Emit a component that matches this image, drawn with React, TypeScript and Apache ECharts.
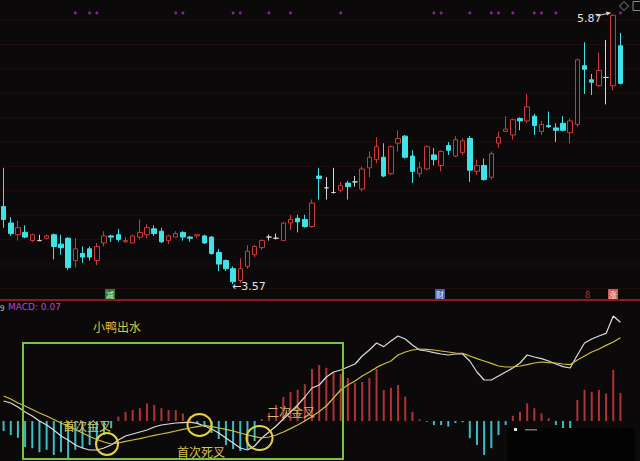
import React, { useEffect, useRef } from "react";
import * as echarts from "echarts";

// [open, close, low, high]
const ohlc: number[][] = [
  [4.23, 4.12, 4.05, 4.56], [4.09, 4.0, 3.98, 4.14], [3.99, 4.05, 3.94, 4.11], [4.01, 3.97, 3.96, 4.07], [3.94, 3.99, 3.93, 4.0],
  [3.94, 3.94, 3.94, 3.99], [3.96, 3.98, 3.95, 3.99], [3.99, 3.89, 3.78, 4.0], [3.91, 3.88, 3.82, 3.99], [3.96, 3.71, 3.69, 3.97],
  [3.77, 3.87, 3.71, 3.96], [3.83, 3.8, 3.75, 3.89], [3.87, 3.8, 3.77, 3.89], [3.77, 3.89, 3.73, 3.92], [3.92, 3.98, 3.89, 4.02],
  [3.98, 3.97, 3.93, 3.99], [3.99, 3.95, 3.93, 4.04], [3.93, 3.94, 3.92, 3.97], [3.92, 3.98, 3.92, 3.99], [3.97, 4.01, 3.95, 4.12],
  [3.99, 4.05, 3.96, 4.08], [4.04, 4.0, 3.98, 4.07], [4.02, 3.93, 3.92, 4.05], [3.94, 3.98, 3.91, 3.99], [3.97, 4.0, 3.97, 4.02],
  [4.01, 3.97, 3.94, 4.02], [3.97, 3.96, 3.93, 3.98], [3.98, 3.99, 3.96, 3.99], [3.98, 3.92, 3.91, 3.99], [3.97, 3.83, 3.82, 3.98],
  [3.84, 3.74, 3.68, 3.87], [3.77, 3.7, 3.68, 3.78], [3.7, 3.59, 3.57, 3.72], [3.6, 3.7, 3.58, 3.79], [3.72, 3.85, 3.7, 3.9],
  [3.82, 3.89, 3.8, 3.9], [3.88, 3.94, 3.86, 3.95], [3.97, 3.97, 3.94, 3.99], [3.96, 3.96, 3.95, 4.0], [3.94, 4.09, 3.94, 4.1],
  [4.09, 4.12, 4.03, 4.16], [4.13, 4.1, 4.01, 4.16], [4.12, 4.06, 4.05, 4.16], [4.06, 4.26, 4.05, 4.29], [4.49, 4.47, 4.29, 4.56],
  [4.39, 4.39, 4.29, 4.48], [4.35, 4.35, 4.34, 4.56], [4.37, 4.41, 4.35, 4.44], [4.43, 4.4, 4.29, 4.45], [4.44, 4.44, 4.4, 4.49],
  [4.38, 4.55, 4.36, 4.57], [4.56, 4.65, 4.48, 4.7], [4.63, 4.74, 4.6, 4.82], [4.65, 4.49, 4.48, 4.77], [4.51, 4.74, 4.5, 4.75],
  [4.77, 4.81, 4.7, 4.88], [4.83, 4.65, 4.64, 4.84], [4.66, 4.53, 4.43, 4.71], [4.51, 4.56, 4.48, 4.61], [4.55, 4.74, 4.54, 4.75],
  [4.67, 4.63, 4.58, 4.73], [4.58, 4.7, 4.53, 4.71], [4.75, 4.71, 4.67, 4.78], [4.66, 4.8, 4.65, 4.83], [4.69, 4.79, 4.67, 4.81],
  [4.81, 4.54, 4.44, 4.83], [4.53, 4.58, 4.5, 4.63], [4.58, 4.46, 4.45, 4.64], [4.48, 4.68, 4.46, 4.7], [4.77, 4.82, 4.73, 4.87],
  [4.87, 4.89, 4.87, 5.0], [4.84, 4.97, 4.8, 4.98], [4.98, 4.96, 4.88, 4.99], [4.96, 5.08, 4.94, 5.19], [5.0, 4.92, 4.84, 5.02],
  [4.87, 4.93, 4.84, 4.96], [4.92, 4.91, 4.9, 5.04], [4.9, 4.88, 4.78, 4.94], [4.94, 4.88, 4.87, 5.0], [4.86, 4.96, 4.77, 4.98],
  [4.93, 5.48, 4.91, 5.49], [5.43, 5.4, 5.19, 5.63], [5.31, 5.29, 5.18, 5.36], [5.26, 5.39, 5.25, 5.54], [5.33, 5.33, 5.1, 5.65],
  [5.26, 5.86, 5.22, 5.87], [5.6, 5.28, 5.27, 5.71],
];

const dojiIdx = [5, 37, 38, 45, 46, 49, 84];

const categories = ohlc.map((_, i) => `D${i + 1}`);

const dotIdx = [10, 12, 13, 24, 25, 32, 33, 37, 40, 47, 60, 61, 65, 68, 69, 71, 74, 75, 77, 86];
const dotLevel = 5.88;

const macd = [
  -0.025, -0.035, -0.042, -0.065, -0.068, -0.078, -0.072, -0.085, -0.078, -0.093,
  -0.072, -0.068, -0.06, -0.048, -0.035, -0.018, 0.011, 0.023, 0.0275, 0.032,
  0.044, 0.04, 0.032, 0.0275, 0.0275, 0.019, 0.011, -0.005, -0.015, -0.03,
  -0.045, -0.06, -0.07, -0.075, -0.07, -0.05, 0.005, 0.02, 0.04, 0.06,
  0.073, 0.078, 0.092, 0.13, 0.14, 0.133, 0.1225, 0.1175, 0.1075, 0.095,
  0.0975, 0.1075, 0.13, 0.0775, 0.083, 0.09, 0.061, 0.023, 0.004, -0.002,
  -0.01, -0.01, -0.014, -0.005, -0.003, -0.043, -0.06, -0.085, -0.068, -0.035,
  -0.01, 0.013, 0.023, 0.044, 0.032, 0.019, 0.007, -0.01, -0.018, -0.018,
  0.0525, 0.0775, 0.073, 0.0775, 0.069, 0.1275, 0.07,
];

const dif = [
  0.05, 0.045, 0.035, 0.0225, 0.0125, 0, -0.01, -0.0225, -0.0375, -0.0475,
  -0.06, -0.0675, -0.0725, -0.0725, -0.0675, -0.06, -0.0475, -0.0375, -0.0325, -0.0275,
  -0.0225, -0.015, -0.01, -0.0075, -0.005, -0.004, -0.003, -0.006, -0.0125, -0.02,
  -0.03, -0.0425, -0.055, -0.0675, -0.0725, -0.0625, -0.0425, -0.0275, -0.0125, 0.005,
  0.0225, 0.04, 0.06, 0.0825, 0.09, 0.11, 0.1225, 0.1275, 0.135, 0.1425,
  0.1625, 0.1775, 0.195, 0.186, 0.2, 0.2125, 0.205, 0.19, 0.1775, 0.175,
  0.171, 0.1675, 0.165, 0.1675, 0.1675, 0.15, 0.1225, 0.1025, 0.1025, 0.1125,
  0.1225, 0.1325, 0.145, 0.165, 0.16, 0.156, 0.15, 0.1425, 0.136, 0.1325,
  0.165, 0.195, 0.205, 0.2125, 0.219, 0.2625, 0.247,
];

const dea = [
  0.0625, 0.055, 0.045, 0.0375, 0.0288, 0.02, 0.0125, 0.0038, -0.005, -0.0125,
  -0.0213, -0.03, -0.0388, -0.0463, -0.0525, -0.0575, -0.055, -0.051, -0.0475, -0.044,
  -0.04, -0.036, -0.0325, -0.029, -0.025, -0.021, -0.0175, -0.014, -0.011, -0.014,
  -0.0175, -0.021, -0.025, -0.03, -0.035, -0.039, -0.0425, -0.04, -0.035, -0.0275,
  -0.019, -0.01, 0, 0.011, 0.024, 0.0375, 0.0575, 0.0775, 0.09, 0.1,
  0.1125, 0.1225, 0.134, 0.1425, 0.15, 0.165, 0.1725, 0.1775, 0.18, 0.179,
  0.1775, 0.175, 0.1725, 0.17, 0.169, 0.1625, 0.156, 0.15, 0.144, 0.1375,
  0.135, 0.135, 0.1375, 0.141, 0.145, 0.1475, 0.146, 0.145, 0.1425, 0.141,
  0.1525, 0.1625, 0.1725, 0.18, 0.189, 0.1975, 0.208,
];

const BG = "#0b0909";
const UP = "#cc3a3a";
const DOWN = "#3fe2e6";
const DOJI = "#d6d6d6";
const CJK = '"Noto Sans CJK SC", "Noto Sans", sans-serif';

export default function App() {
  const ref = useRef<HTMLDivElement>(null);

  useEffect(() => {
    if (!ref.current) return;
    const chart = echarts.init(ref.current, undefined, { renderer: "svg" });

    const gridLines: any[] = [];
    for (let k = 0; k < 12; k++) {
      const y = 20 + k * 24.4;
      gridLines.push({
        type: "line",
        z: 0,
        shape: { x1: 0, y1: y, x2: 640, y2: y },
        style: { stroke: "rgba(110,25,25,0.25)", lineWidth: 1 },
        silent: true,
      });
    }

    const txt = (x: number, y: number, text: string, fill: string, font: string, z = 60) => ({
      type: "text",
      x,
      y,
      z,
      style: { text, fill, font, verticalAlign: "middle", textAlign: "left" },
      silent: true,
    });

    const boxLabel = (x: number, y: number, text: string, bg: string, fg: string) => ({
      type: "group",
      z: 60,
      children: [
        { type: "rect", shape: { x: x - 5, y: y - 5, width: 10, height: 10 }, style: { fill: bg }, z: 60 },
        {
          type: "text",
          x,
          y,
          z: 61,
          style: { text, fill: fg, font: `8px ${CJK}`, textAlign: "center", verticalAlign: "middle" },
        },
      ],
    });

    const option: any = {
      backgroundColor: BG,
      animation: false,
      grid: [
        { left: 0, right: 16, top: 0, height: 300 },
        { left: 0, right: 16, top: 300, height: 161 },
      ],
      xAxis: [
        { type: "category", data: categories, gridIndex: 0, show: false, boundaryGap: true },
        { type: "category", data: categories, gridIndex: 1, show: false, boundaryGap: true },
      ],
      yAxis: [
        { type: "value", gridIndex: 0, min: 3.434, max: 5.99, show: false, splitLine: { show: false } },
        { type: "value", gridIndex: 1, min: -0.1, max: 0.3025, show: false, splitLine: { show: false } },
      ],
      series: [
        {
          type: "candlestick",
          xAxisIndex: 0,
          yAxisIndex: 0,
          barWidth: 5,
          data: ohlc.map((d, i) =>
            dojiIdx.includes(i)
              ? { value: d, itemStyle: { color: DOJI, color0: DOJI, borderColor: DOJI, borderColor0: DOJI } }
              : d
          ),
          itemStyle: { color: BG, color0: DOWN, borderColor: UP, borderColor0: DOWN, borderWidth: 1 },
        },
        {
          type: "scatter",
          xAxisIndex: 0,
          yAxisIndex: 0,
          symbolSize: 3,
          data: dotIdx.map((i) => [i, dotLevel]),
          itemStyle: { color: "#9a30b0" },
        },
        {
          type: "bar",
          xAxisIndex: 1,
          yAxisIndex: 1,
          barWidth: 2,
          data: macd,
          itemStyle: { color: (p: any) => (p.value >= 0 ? "#b03333" : "#3cbcc4") },
        },
        {
          type: "line",
          xAxisIndex: 1,
          yAxisIndex: 1,
          data: dif,
          showSymbol: false,
          lineStyle: { color: "#dcdcdc", width: 1.2 },
          itemStyle: { color: "#dcdcdc" },
          z: 5,
        },
        {
          type: "line",
          xAxisIndex: 1,
          yAxisIndex: 1,
          data: dea,
          showSymbol: false,
          lineStyle: { color: "#cfc043", width: 1.2 },
          itemStyle: { color: "#cfc043" },
          z: 5,
        },
      ],
      graphic: [
        ...gridLines,
        {
          type: "line",
          z: 40,
          shape: { x1: 0, y1: 300, x2: 640, y2: 300 },
          style: { stroke: "#8e1a1a", lineWidth: 2 },
        },
        boxLabel(110, 294, "减", "#2f7a34", "#c8ffc8"),
        boxLabel(440, 294, "财", "#3c5fae", "#e8f0ff"),
        txt(585, 294, "8", "#c83030", `9px ${CJK}`),
        boxLabel(613, 294, "涨", "#c85a5a", "#ffe8e8"),
        txt(0, 307, "9", "#d8d0a0", `8px ${CJK}`),
        txt(8, 307, "MACD: 0.07", "#c040c8", `9px "DejaVu Sans", sans-serif`),
        txt(93, 326, "小鸭出水", "#dcc445", `12px ${CJK}`),
        {
          type: "rect",
          z: 50,
          shape: { x: 23, y: 343, width: 320, height: 116 },
          style: { fill: "none", stroke: "#7ec242", lineWidth: 2 },
        },
        txt(63, 425, "首次金叉", "#d8c458", `12px ${CJK}`),
        txt(177, 451, "首次死叉", "#d8c458", `12px ${CJK}`),
        txt(267, 411, "二次金叉", "#d8b868", `12px ${CJK}`),
        {
          type: "ellipse",
          z: 55,
          shape: { cx: 107, cy: 444, rx: 11, ry: 11 },
          style: { fill: "none", stroke: "#e6d040", lineWidth: 2 },
        },
        {
          type: "ellipse",
          z: 55,
          shape: { cx: 199.5, cy: 425, rx: 12, ry: 11 },
          style: { fill: "none", stroke: "#e6d040", lineWidth: 2 },
        },
        {
          type: "ellipse",
          z: 55,
          shape: { cx: 259.5, cy: 438, rx: 13, ry: 12 },
          style: { fill: "none", stroke: "#e6d040", lineWidth: 2 },
        },
        {
          type: "rect",
          z: 70,
          shape: { x: 507, y: 428, width: 128, height: 33 },
          style: { fill: "#030303" },
        },
        { type: "rect", z: 71, shape: { x: 514, y: 428, width: 3, height: 3 }, style: { fill: "#e0e0e0" } },
        { type: "rect", z: 71, shape: { x: 525, y: 429, width: 12, height: 1.5 }, style: { fill: "#777" } },
        txt(577, 18, "5.87", "#e2e2e2", `11px "DejaVu Sans", sans-serif`),
        {
          type: "line",
          z: 60,
          shape: { x1: 596, y1: 16, x2: 610, y2: 13 },
          style: { stroke: "#d8d8d8", lineWidth: 1 },
        },
        {
          type: "polygon",
          z: 60,
          shape: { points: [[611, 12.8], [606, 11.5], [607, 15.5]] },
          style: { fill: "#d8d8d8" },
        },
        txt(232, 286, "←3.57", "#e2e2e2", `11px "DejaVu Sans", sans-serif`),
        {
          type: "polygon",
          z: 60,
          shape: { points: [[624, 1.5], [628.5, 6], [624, 10.5], [619.5, 6]] },
          style: { fill: "none", stroke: "#8a8a8a", lineWidth: 1 },
        },
        {
          type: "rect",
          z: 60,
          shape: { x: 633, y: 1.5, width: 9, height: 9 },
          style: { fill: "none", stroke: "#8a8a8a", lineWidth: 1 },
        },
      ],
    };

    chart.setOption(option);
    return () => chart.dispose();
  }, []);

  return (
    <div
      ref={ref}
      style={{ position: "fixed", left: 0, top: 0, width: 640, height: 461, background: BG }}
    />
  );
}
